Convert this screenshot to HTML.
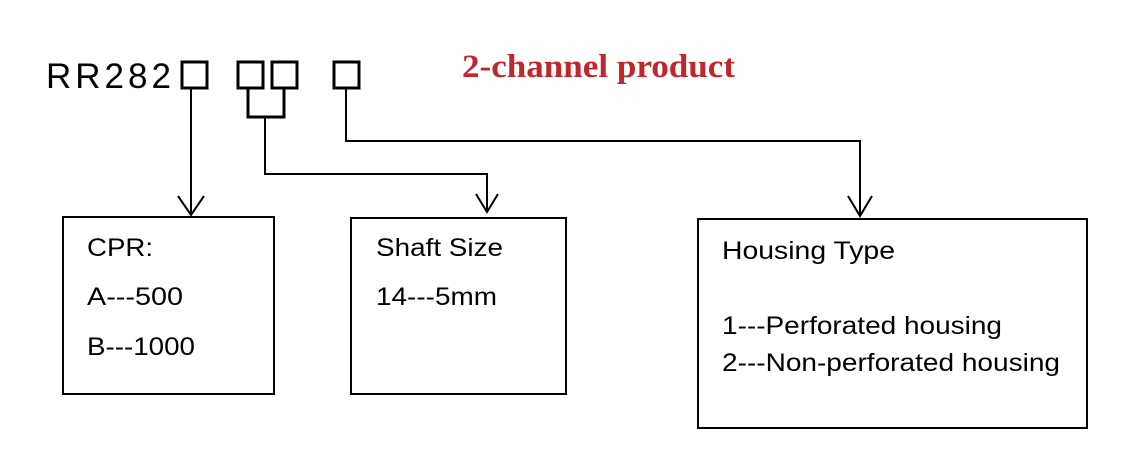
<!DOCTYPE html>
<html><head><meta charset="utf-8"><style>
body{margin:0;background:#fff;width:1136px;height:460px;overflow:hidden}
</style></head><body>
<svg width="1136" height="460" xmlns="http://www.w3.org/2000/svg">
<g fill="none" stroke="#000">
<g stroke-width="3">
<rect x="182" y="62" width="25" height="26"/>
<rect x="238" y="62" width="25" height="26"/>
<rect x="272" y="62" width="25" height="26"/>
<rect x="334" y="62" width="25" height="26"/>
<polyline points="248,88 248,117 284,117 284,88"/>
</g>
<g stroke-width="2">
<line x1="191" y1="88" x2="191" y2="215"/>
<polyline points="178,196 191,215 204,196"/>
<polyline points="265,117 265,174 487,174 487,212"/>
<polyline points="476,194 487,212 498,194"/>
<polyline points="346,88 346,141 860,141 860,216"/>
<polyline points="848,196 860,216 872,196"/>
<rect x="63" y="217" width="211" height="177"/>
<rect x="351" y="218" width="215" height="176"/>
<rect x="698" y="219" width="389" height="209"/>
</g>
</g>
<g font-family="Liberation Sans, sans-serif" fill="#000">
<text x="46" y="88" font-size="35" letter-spacing="4">RR282</text>
<g font-size="25" lengthAdjust="spacingAndGlyphs">
<text x="87" y="256" textLength="66" lengthAdjust="spacingAndGlyphs">CPR:</text>
<text x="87" y="305" textLength="96" lengthAdjust="spacingAndGlyphs">A---500</text>
<text x="87" y="355" textLength="108" lengthAdjust="spacingAndGlyphs">B---1000</text>
<text x="376" y="256" textLength="127" lengthAdjust="spacingAndGlyphs">Shaft Size</text>
<text x="376" y="305" textLength="121" lengthAdjust="spacingAndGlyphs">14---5mm</text>
<text x="722" y="259" textLength="173" lengthAdjust="spacingAndGlyphs">Housing Type</text>
<text x="722" y="334" textLength="280" lengthAdjust="spacingAndGlyphs">1---Perforated housing</text>
<text x="722" y="371" textLength="338" lengthAdjust="spacingAndGlyphs">2---Non-perforated housing</text>
</g>
</g>
<text x="462" y="77" font-family="Liberation Serif, serif" font-weight="bold" font-size="33" fill="#c0262a" textLength="273" lengthAdjust="spacingAndGlyphs">2-channel product</text>
</svg>
</body></html>
